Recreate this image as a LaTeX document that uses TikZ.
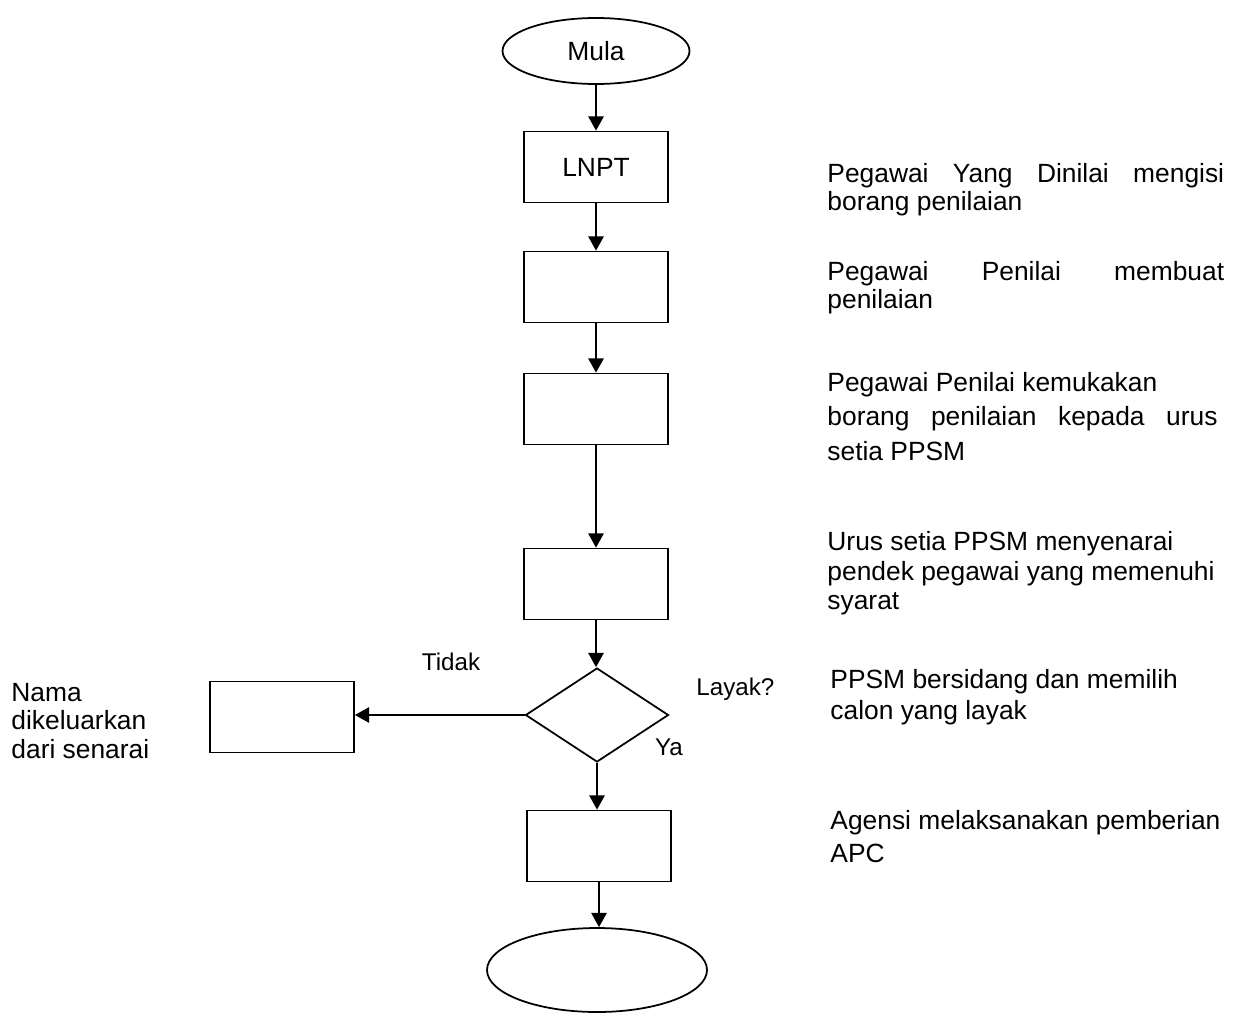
\documentclass[tikz,border=0pt]{standalone}
\usepackage{fontspec}
\setmainfont{Liberation Sans}
\usepackage{tikz}
\usetikzlibrary{arrows.meta}
\usetikzlibrary{shapes}
\newlength\pxu
\setlength\pxu{0.455pt}
\newcommand{\fillline}[2][180.5pt]{\makebox[#1][s]{#2}}
\tikzstyle{stepbox}=[draw, rectangle, line width=0.8pt, minimum width=144\pxu, minimum height=71\pxu, inner sep=0pt]
\tikzstyle{terminal}=[draw, ellipse, line width=0.8pt, inner sep=0pt]
\tikzstyle{decision}=[draw, diamond, line width=0.8pt, minimum width=143\pxu, minimum height=94\pxu, inner sep=0pt]
\tikzstyle{flow}=[-{Triangle[length=6.5pt,width=7pt]}, line width=0.8pt]
\tikzstyle{note}=[anchor=north west, inner sep=0pt, align=left]
\tikzstyle{answer}=[inner sep=0pt, font=\fontsize{11}{13}\selectfont]

\begin{document}
\begin{tikzpicture}[x=0.455pt, y=-0.455pt, font=\fontsize{12}{14}\selectfont]
	\useasboundingbox (0,0) rectangle (1237,1015);
	% main column
	\node[terminal, minimum width=187\pxu, minimum height=66\pxu] (mula) at (596,51) {Mula};
	\node[stepbox] (lnpt) at (596,167) {LNPT};
	\node[stepbox] (isi) at (596,287) {};
	\node[stepbox] (nilai) at (596,409) {};
	\node[stepbox] (senarai) at (596,584) {};
	\node[decision] (layak) at (597,715) {};
	\node[stepbox] (keluar) at (282,717) {};
	\node[stepbox] (apc) at (599,846) {};
	\node[terminal, minimum width=220\pxu, minimum height=84\pxu] (tamat) at (597,970) {};
	\draw[flow] (mula.south) -- (mula.south |- lnpt.north);
	\draw[flow] (lnpt.south) -- (lnpt.south |- isi.north);
	\draw[flow] (isi.south) -- (isi.south |- nilai.north);
	\draw[flow] (nilai.south) -- (nilai.south |- senarai.north);
	\draw[flow] (senarai.south) -- (senarai.south |- layak.north);
	\draw[flow] (layak.west) -- (layak.west -| keluar.east);
	\draw[flow] (layak.south) -- (layak.south |- apc.north);
	\draw[flow] (apc.south) -- (apc.south |- tamat.north);
	% decision labels
	\node[answer, anchor=base] (tidak) at (451,670) {Tidak};
	\node[answer, anchor=base west] (tanya) at (696,695) {Layak?};
	\node[answer, anchor=base] (ya) at (669,755) {Ya};
	% notes
	\node[note, font=\fontsize{12}{12.7}\selectfont] (n1) at (827,163) {\fillline{Pegawai Yang Dinilai mengisi}\\borang penilaian};
	\node[note, font=\fontsize{12}{12.9}\selectfont] (n2) at (827,261) {\fillline{Pegawai Penilai membuat}\\penilaian};
	\node[note, font=\fontsize{12}{15.6}\selectfont] (n3) at (827,372) {Pegawai Penilai kemukakan\\\fillline[177.5pt]{borang penilaian kepada urus}\\setia PPSM};
	\node[note, font=\fontsize{12}{13.4}\selectfont] (n4) at (827,531) {Urus setia PPSM menyenarai\\pendek pegawai yang memenuhi\\syarat};
	\node[note, font=\fontsize{12}{14.1}\selectfont] (n5) at (830,669) {PPSM bersidang dan memilih\\calon yang layak};
	\node[note, font=\fontsize{12}{15}\selectfont] (n6) at (830,810) {Agensi melaksanakan pemberian\\APC};
	\node[note, font=\fontsize{12}{12.9}\selectfont] (n7) at (11,683) {Nama\\dikeluarkan\\dari senarai};
\end{tikzpicture}
\end{document}
